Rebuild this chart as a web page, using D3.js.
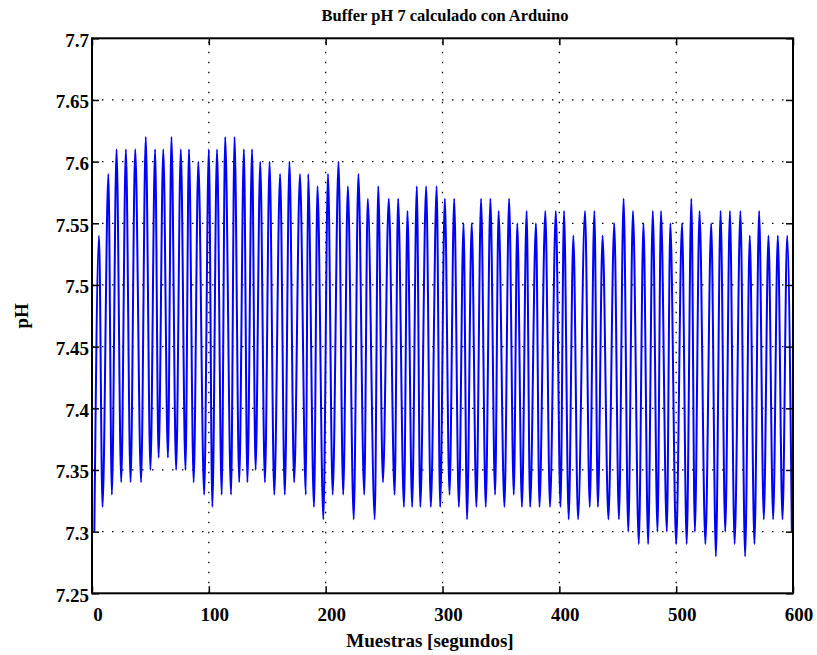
<!DOCTYPE html>
<html>
<head>
<meta charset="utf-8">
<script src="https://cdn.jsdelivr.net/npm/d3@7"></script>
<style>
  html, body { margin: 0; padding: 0; background: #fff; }
  text { font-family: "Liberation Serif", "Times New Roman", serif; font-weight: bold; }
</style>
</head>
<body>
<script>
// Extremes (peaks / troughs) of the pH signal
const sampleIdx = [2,6,9,14,17,21,25,29,33,37,42,46,50,54,57,61,65,68,72,76,80,83,87,91,96,100,103,107,111,114,119,122,126,130,133,137,140,144,148,152,156,161,165,169,173,178,183,185,190,193,198,202,206,211,215,219,224,228,233,236,242,245,249,254,259,262,267,270,274,278,281,286,290,295,298,302,306,310,314,318,321,325,329,333,337,341,345,348,353,357,361,364,368,372,375,380,383,388,392,397,401,404,408,412,416,422,426,430,433,437,442,447,451,455,459,463,468,472,476,480,484,487,492,495,500,505,509,513,516,520,525,530,534,538,542,546,550,555,559,563,567,571,575,579,583,587,591,595,599];
const phValues = [7.30,7.54,7.32,7.59,7.33,7.61,7.34,7.61,7.34,7.61,7.34,7.62,7.35,7.61,7.36,7.61,7.36,7.62,7.35,7.61,7.35,7.61,7.34,7.60,7.33,7.61,7.32,7.61,7.33,7.62,7.33,7.62,7.34,7.61,7.34,7.61,7.35,7.60,7.34,7.60,7.33,7.59,7.33,7.60,7.34,7.59,7.33,7.59,7.32,7.58,7.31,7.59,7.33,7.60,7.33,7.58,7.31,7.59,7.33,7.57,7.31,7.58,7.34,7.57,7.33,7.57,7.32,7.56,7.32,7.58,7.32,7.58,7.32,7.58,7.32,7.57,7.33,7.57,7.32,7.55,7.31,7.55,7.32,7.57,7.32,7.57,7.33,7.56,7.32,7.57,7.33,7.55,7.32,7.56,7.32,7.55,7.32,7.56,7.32,7.56,7.32,7.56,7.31,7.54,7.31,7.56,7.32,7.56,7.32,7.54,7.31,7.55,7.31,7.57,7.30,7.56,7.29,7.55,7.29,7.56,7.30,7.56,7.30,7.55,7.29,7.55,7.29,7.57,7.30,7.56,7.29,7.55,7.28,7.56,7.30,7.56,7.29,7.56,7.28,7.54,7.29,7.56,7.31,7.54,7.31,7.54,7.31,7.54,7.30];
const xTicks = [0,100,200,300,400,500,600];
const yTicks = [7.25,7.3,7.35,7.4,7.45,7.5,7.55,7.6,7.65,7.7];
const yTickLabels = ["7.25","7.3","7.35","7.4","7.45","7.5","7.55","7.6","7.65","7.7"];
const titleText = "Buffer pH 7 calculado con Arduino";
const xLabel = "Muestras [segundos]";
const yLabel = "pH";

const W = 817, H = 655;
const L = 92, R = 793, T = 38.3, B = 593.3;
const svg = d3.select("body").append("svg").attr("width", W).attr("height", H);
svg.append("rect").attr("width", W).attr("height", H).attr("fill", "#fff");

const x = d3.scaleLinear().domain([0, 600]).range([L, R]);
const y = d3.scaleLinear().domain([7.25, 7.7]).range([B, T]);

// grid
const grid = svg.append("g").attr("stroke", "#000").attr("stroke-width", 1.3).attr("stroke-dasharray", "1.5,8.5");
grid.selectAll("line.v").data(xTicks.slice(1, -1)).join("line")
  .attr("x1", d => x(d)).attr("x2", d => x(d)).attr("y1", B).attr("y2", T);
grid.selectAll("line.h").data(yTicks.slice(1, -1)).join("line")
  .attr("x1", L).attr("x2", R).attr("y1", d => y(d)).attr("y2", d => y(d));

// data line
const pts = sampleIdx.map((s, i) => [s, phValues[i]]);
svg.append("path").datum(pts)
  .attr("fill", "none").attr("stroke", "#0000ff").attr("stroke-width", 2)
  .attr("stroke-linejoin", "round")
  .attr("d", d3.line().x(d => x(d[0])).y(d => y(d[1])).curve(d3.curveMonotoneX));

// axes
const fs = 19;
const gb = svg.append("g").attr("transform", `translate(0,${B})`)
  .call(d3.axisBottom(x).tickValues(xTicks).tickSize(-7).tickSizeOuter(0).tickFormat(d3.format("d")));
gb.selectAll("text").attr("y", 28).attr("dy", 0).attr("dx", 5.5).attr("font-size", fs).attr("fill", "#000");
const gt = svg.append("g").attr("transform", `translate(0,${T})`)
  .call(d3.axisTop(x).tickValues(xTicks).tickSize(-7).tickSizeOuter(0).tickFormat(""));
const gl = svg.append("g").attr("transform", `translate(${L},0)`)
  .call(d3.axisLeft(y).tickValues(yTicks).tickSize(-7).tickSizeOuter(0).tickFormat((d, i) => yTickLabels[i]));
gl.selectAll("text").attr("x", -3).attr("dy", 0).attr("y", 8).attr("font-size", fs).attr("fill", "#000");
const gr = svg.append("g").attr("transform", `translate(${R},0)`)
  .call(d3.axisRight(y).tickValues(yTicks).tickSize(-7).tickSizeOuter(0).tickFormat(""));
[gb, gt, gl, gr].forEach(g => {
  g.select(".domain").remove();
  g.selectAll(".tick line").attr("stroke", "#000").attr("stroke-width", 1.5);
  g.attr("font-family", null);
});

// frame
svg.append("rect").attr("x", L).attr("y", T).attr("width", R - L).attr("height", B - T)
  .attr("fill", "none").attr("stroke", "#000").attr("stroke-width", 2);

// labels
svg.append("text").attr("x", 445).attr("y", 21).attr("text-anchor", "middle")
  .attr("font-size", 16.5).text(titleText);
svg.append("text").attr("x", 430).attr("y", 647).attr("text-anchor", "middle")
  .attr("font-size", fs).text(xLabel);
svg.append("text").attr("transform", `translate(28.3,${(T + B) / 2}) rotate(-90)`)
  .attr("text-anchor", "middle").attr("font-size", fs).text(yLabel);
</script>
</body>
</html>
